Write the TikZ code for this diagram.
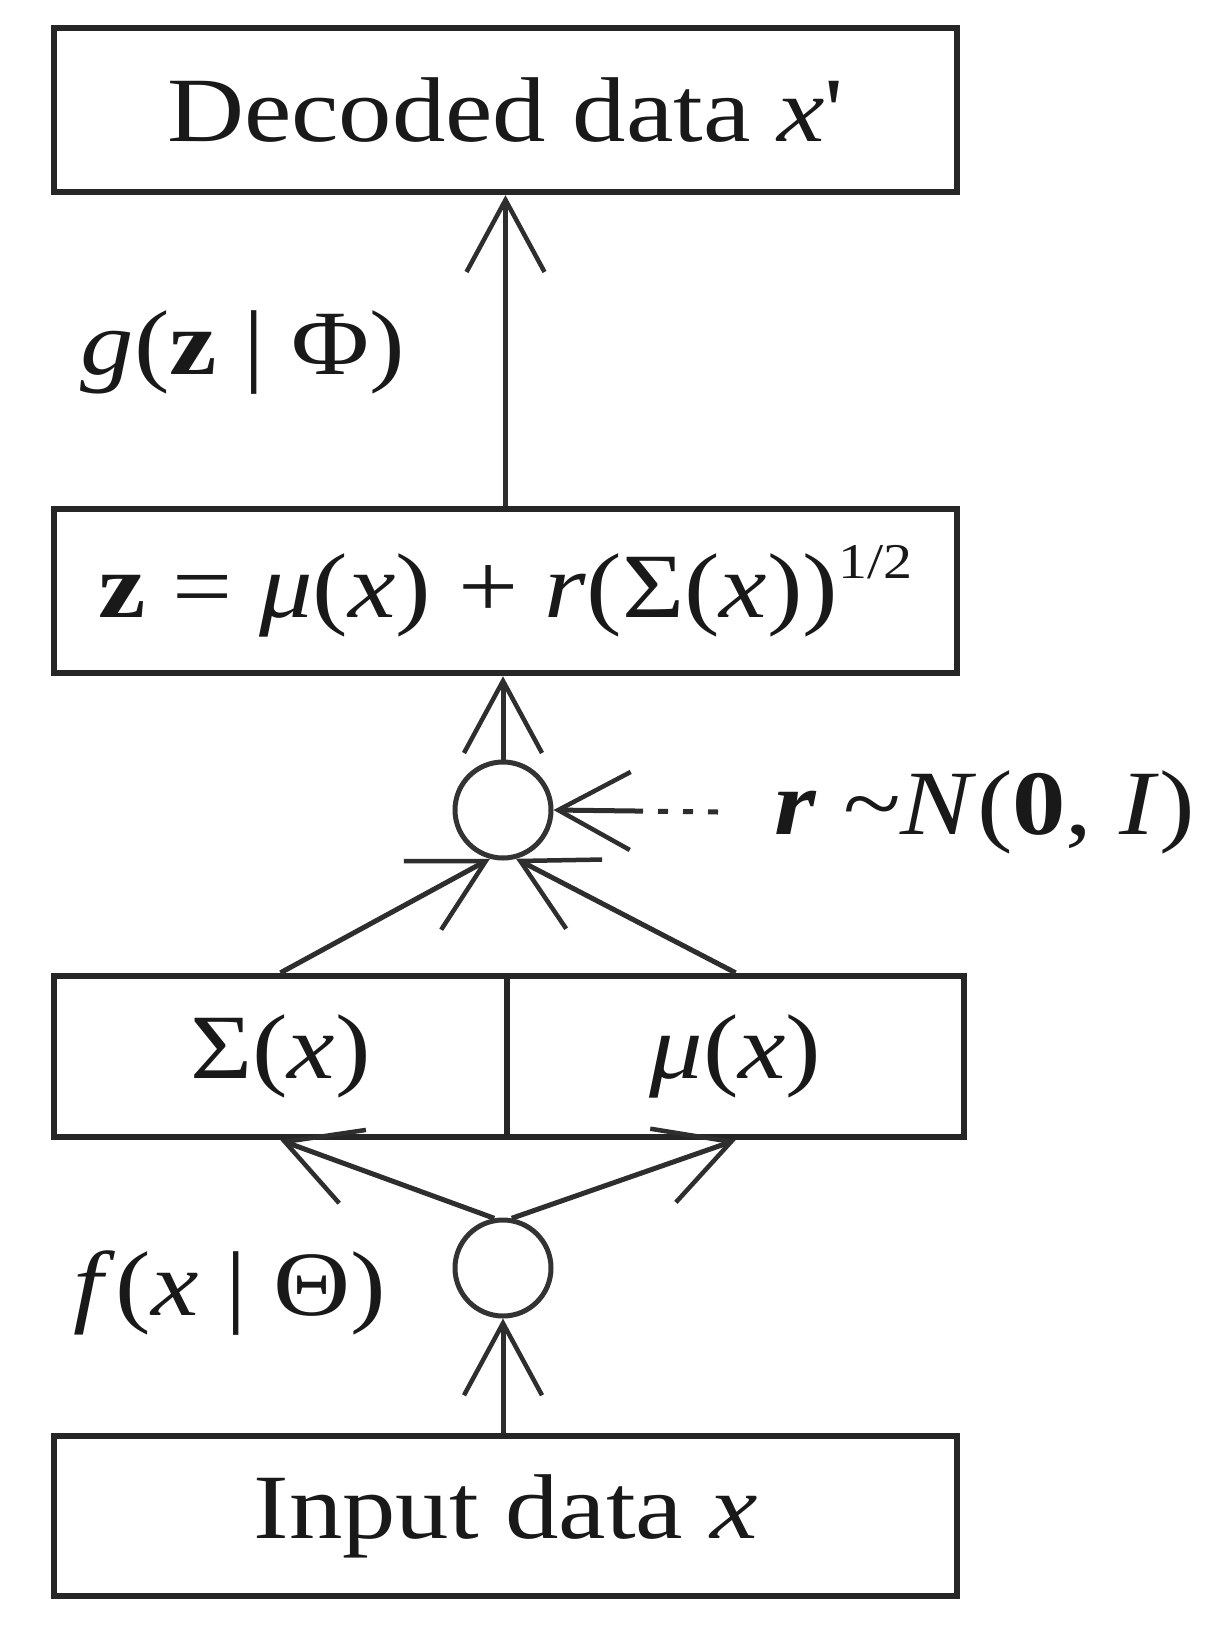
\documentclass[tikz,border=0pt]{standalone}
\usepackage{fontspec}
\setmainfont{Liberation Serif}[FakeStretch=1.16]
\newfontfamily\plainserif{Liberation Serif}[FakeStretch=1.16]
\usetikzlibrary{arrows.meta}
\newcommand{\halfsup}{\raisebox{0.42em}{\fontsize{50}{50}\selectfont 1/2}}
\begin{document}
\begin{tikzpicture}[x=1pt,y=-1pt,
  every node/.style={font=\fontsize{92}{100}\selectfont, text=black!90},
  box/.style={draw=black!85, line width=6.5pt, inner sep=0pt},
  circ/.style={draw=black!80, line width=5pt, circle, minimum size=96pt, inner sep=0pt},
  lab/.style={inner sep=0pt},
  arr/.style={draw=black!82, line width=5pt, -{Straight Barb[length=72pt,width=78pt,line width=4.5pt]}}
]
\useasboundingbox (0,0) rectangle (1214,1628);
\fill[white] (0,0) rectangle (1214,1628);

\node[box, minimum width=903pt, minimum height=164pt] (dec) at (505.5,110) {Decoded data \textit{x}{\plainserif '}};
\node[box, minimum width=903pt, minimum height=164pt] (zb) at (505.5,591)
  {\textbf{z} = \textit{μ}(\textit{x}) + \textit{r}(Σ(\textit{x}))\halfsup};
\node[box, minimum width=453pt, minimum height=161pt] (sig) at (280.5,1056.5) {Σ(\textit{x})};
\node[box, minimum width=457pt, minimum height=161pt] (mu) at (735.5,1056.5) {\textit{μ}(\textit{x})};
\node[box, minimum width=903pt, minimum height=160pt] (inp) at (505.5,1516) {Input data \textit{x}};

\node[circ] (c1) at (503,810) {};
\node[circ] (c2) at (503,1268) {};

\node[lab] (glab) at (243,353) {\textit{g}(\textbf{z} | Φ)};
\node[lab] (flab) at (230,1293) {\textit{f}(\textit{x} | Θ)};
\node[lab, anchor=west] (rlab) at (774,812) {\textbf{\textit{r}} \textasciitilde\textit{N}(\textbf{0}, \textit{I})};

\draw[arr] (zb.north) -- (dec.south);
\draw[arr] (c1.north) -- (c1.north |- zb.south);
\draw[arr, dash pattern=on 10pt off 15pt on 10pt off 15pt on 10pt off 15pt on 300pt off 1pt]
  ([xshift=-56pt]rlab.west) -- (c1.east);
\draw[arr] (sig.north) -- (c1.255);
\draw[arr] (mu.north) -- (c1.285);
\draw[arr] (c2.100) -- (sig.south);
\draw[arr] (c2.80) -- (mu.south);
\draw[arr] (c2.south |- inp.north) -- (c2.south);
\end{tikzpicture}
\end{document}
